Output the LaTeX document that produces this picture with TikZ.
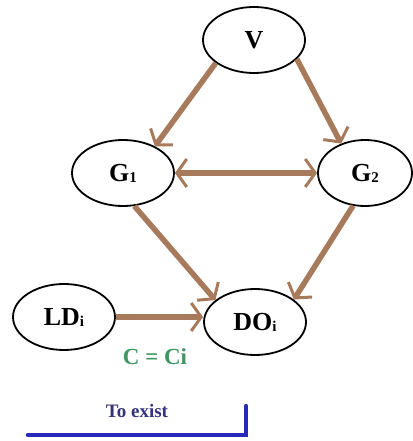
\documentclass[tikz,border=0pt]{standalone}
\usepackage{fontspec}
\setmainfont{Liberation Serif}
\usetikzlibrary{shapes.geometric,arrows.meta}
\definecolor{arrbrown}{RGB}{168,122,92}
\definecolor{cgreen}{RGB}{62,150,98}
\definecolor{txtblue}{RGB}{52,52,125}
\definecolor{lineblue}{RGB}{40,40,185}
\tikzset{
  vnode/.style={draw=black,line width=1.8pt,ellipse,minimum width=102pt,minimum height=66pt,inner sep=0pt,font=\fontsize{26}{28}\selectfont\bfseries},
  conn/.style={draw=arrbrown,line width=5.5pt,-{Straight Barb[length=10pt,width=28pt,line width=3pt]}},
  bconn/.style={draw=arrbrown,line width=5.5pt,{Straight Barb[length=10pt,width=28pt,line width=3pt]}-{Straight Barb[length=10pt,width=28pt,line width=3pt]}},
}
\newcommand{\smsub}[1]{\raisebox{-1pt}{\fontsize{15}{16}\selectfont #1}}
\begin{document}
\begin{tikzpicture}[x=1pt,y=-1pt]
\useasboundingbox[fill=white] (0,0) rectangle (412,441);
\node[vnode] (V) at (254,40) {V};
\node[vnode] (G1) at (123,173) {G\smsub{1}};
\node[vnode,minimum width=94pt] (G2) at (365,173) {G\smsub{2}};
\node[vnode] (LD) at (64,317) {LD\smsub{i}};
\node[vnode] (DO) at (255,322) {DO\smsub{i}};
\node[text=cgreen,font=\fontsize{23}{25}\selectfont\bfseries] (C) at (155,357) {C = Ci};
\node[text=txtblue,font=\fontsize{19}{21}\selectfont\bfseries] (T) at (137,411) {To exist};
\coordinate (L1) at (28,435);
\coordinate (L2) at (246,435);
\coordinate (L3) at (246,406);
\draw[lineblue,line width=4.5pt,line cap=round,line join=miter] (L1) -- (L2) -- (L3);
\draw[conn] (V.211) -- (G1.40);
\draw[conn] (V.336) -- (G2.129);
\draw[bconn] (G1.east) -- (G2.west);
\draw[conn] (G1.289) -- (DO.151);
\draw[conn] (G2.250) -- (DO.30);
\draw[conn] (LD.east) -- (LD.east -| DO.west);
\end{tikzpicture}
\end{document}
